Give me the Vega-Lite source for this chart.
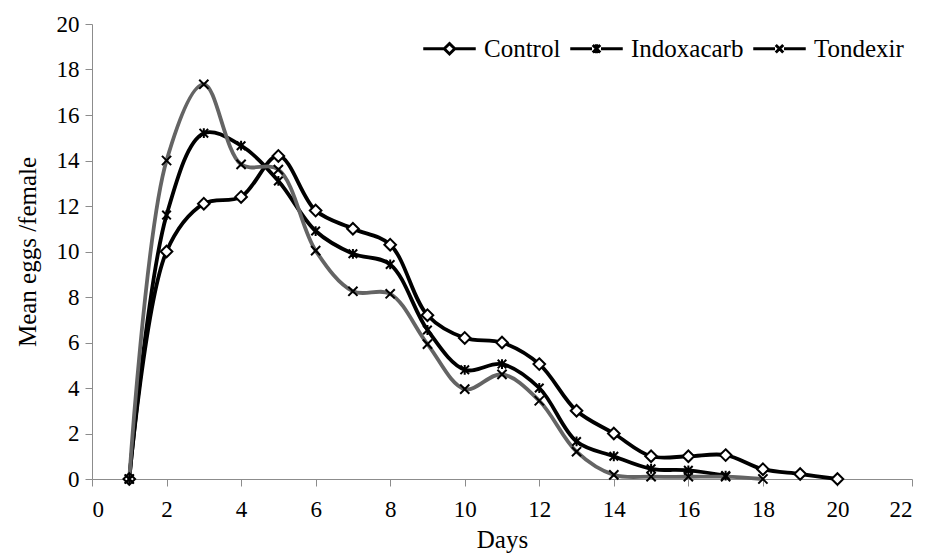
{
  "$schema": "https://vega.github.io/schema/vega-lite/v6.json",
  "width": 820,
  "height": 455,
  "autosize": {"type": "none"},
  "padding": {"left": 92, "top": 24, "right": 15, "bottom": 77},
  "background": "white",
  "config": {
    "view": {"stroke": null},
    "font": "Liberation Serif",
    "axis": {
      "grid": false,
      "domainColor": "#8c8c8c",
      "tickColor": "#8c8c8c",
      "tickSize": 7,
      "labelFont": "Liberation Serif",
      "labelFontSize": 23,
      "labelColor": "black",
      "titleFont": "Liberation Serif",
      "titleFontSize": 25,
      "titleFontWeight": "normal",
      "titleColor": "black"
    }
  },
  "data": {
    "values": [
      {"day": 1, "series": "Control", "eggs": 0},
      {"day": 2, "series": "Control", "eggs": 10},
      {"day": 3, "series": "Control", "eggs": 12.1},
      {"day": 4, "series": "Control", "eggs": 12.4},
      {"day": 5, "series": "Control", "eggs": 14.2},
      {"day": 6, "series": "Control", "eggs": 11.8},
      {"day": 7, "series": "Control", "eggs": 11.0},
      {"day": 8, "series": "Control", "eggs": 10.3},
      {"day": 9, "series": "Control", "eggs": 7.2},
      {"day": 10, "series": "Control", "eggs": 6.2},
      {"day": 11, "series": "Control", "eggs": 6.0},
      {"day": 12, "series": "Control", "eggs": 5.05},
      {"day": 13, "series": "Control", "eggs": 3.0},
      {"day": 14, "series": "Control", "eggs": 2.0},
      {"day": 15, "series": "Control", "eggs": 1.0},
      {"day": 16, "series": "Control", "eggs": 1.0},
      {"day": 17, "series": "Control", "eggs": 1.05},
      {"day": 18, "series": "Control", "eggs": 0.43},
      {"day": 19, "series": "Control", "eggs": 0.22},
      {"day": 20, "series": "Control", "eggs": 0},
      {"day": 1, "series": "Indoxacarb", "eggs": 0},
      {"day": 2, "series": "Indoxacarb", "eggs": 11.6},
      {"day": 3, "series": "Indoxacarb", "eggs": 15.2},
      {"day": 4, "series": "Indoxacarb", "eggs": 14.65},
      {"day": 5, "series": "Indoxacarb", "eggs": 13.1},
      {"day": 6, "series": "Indoxacarb", "eggs": 10.9},
      {"day": 7, "series": "Indoxacarb", "eggs": 9.9},
      {"day": 8, "series": "Indoxacarb", "eggs": 9.43},
      {"day": 9, "series": "Indoxacarb", "eggs": 6.55},
      {"day": 10, "series": "Indoxacarb", "eggs": 4.8},
      {"day": 11, "series": "Indoxacarb", "eggs": 5.05},
      {"day": 12, "series": "Indoxacarb", "eggs": 4.0},
      {"day": 13, "series": "Indoxacarb", "eggs": 1.65},
      {"day": 14, "series": "Indoxacarb", "eggs": 1.0},
      {"day": 15, "series": "Indoxacarb", "eggs": 0.45},
      {"day": 16, "series": "Indoxacarb", "eggs": 0.38},
      {"day": 17, "series": "Indoxacarb", "eggs": 0.15},
      {"day": 1, "series": "Tondexir", "eggs": 0},
      {"day": 2, "series": "Tondexir", "eggs": 14.0},
      {"day": 3, "series": "Tondexir", "eggs": 17.35},
      {"day": 4, "series": "Tondexir", "eggs": 13.83},
      {"day": 5, "series": "Tondexir", "eggs": 13.6},
      {"day": 6, "series": "Tondexir", "eggs": 10.04},
      {"day": 7, "series": "Tondexir", "eggs": 8.25},
      {"day": 8, "series": "Tondexir", "eggs": 8.14},
      {"day": 9, "series": "Tondexir", "eggs": 5.93},
      {"day": 10, "series": "Tondexir", "eggs": 3.95},
      {"day": 11, "series": "Tondexir", "eggs": 4.6},
      {"day": 12, "series": "Tondexir", "eggs": 3.44},
      {"day": 13, "series": "Tondexir", "eggs": 1.2},
      {"day": 14, "series": "Tondexir", "eggs": 0.18},
      {"day": 15, "series": "Tondexir", "eggs": 0.1},
      {"day": 16, "series": "Tondexir", "eggs": 0.1},
      {"day": 17, "series": "Tondexir", "eggs": 0.1},
      {"day": 18, "series": "Tondexir", "eggs": 0}
    ]
  },
  "encoding": {
    "x": {
      "field": "day", "type": "quantitative",
      "scale": {"domain": [0, 22], "nice": false},
      "axis": {"values": [0, 2, 4, 6, 8, 10, 12, 14, 16, 18, 20, 22], "title": "Days", "labelPadding": 12, "titlePadding": 6}
    },
    "y": {
      "field": "eggs", "type": "quantitative",
      "scale": {"domain": [0, 20], "nice": false},
      "axis": {"values": [0, 2, 4, 6, 8, 10, 12, 14, 16, 18, 20], "title": "Mean eggs /female", "labelPadding": 6, "titlePadding": 16}
    }
  },
  "layer": [
    {
      "mark": {"type": "point", "filled": false, "fill": "white", "stroke": "black", "strokeOpacity": 0, "fillOpacity": 0},
      "encoding": {
        "shape": {
          "field": "series", "type": "nominal", "title": null,
          "scale": {"domain": ["Control", "Indoxacarb", "Tondexir"], "range": ["M-3.5,0L-0.7,0M-0.7,0L0,-0.7L0.7,0L0,0.7ZM0.7,0L3.5,0", "M-3.5,0L-0.6,0M0.6,0L3.5,0M-0.5,-0.5L0.5,0.5M-0.5,0.5L0.5,-0.5M0,-0.6L0,0.6", "M-3.5,0L-0.6,0M0.6,0L3.5,0M-0.5,-0.5L0.5,0.5M-0.5,0.5L0.5,-0.5"]},
          "legend": {
            "orient": "none", "legendX": 345, "legendY": 12, "direction": "horizontal",
            "symbolSize": 225, "symbolStrokeWidth": 3,
            "labelFont": "Liberation Serif", "labelFontSize": 25, "labelColor": "black",
            "labelOffset": 22, "columnPadding": 3, "padding": 0,
            "encode": {"symbols": {
              "strokeOpacity": {"value": 1},
              "fillOpacity": {"value": 1},
              "fill": {"value": "white"},
              "strokeWidth": {"value": 3},
              "stroke": {"value": "#000000"}
            }}
          }
        }
      }
    },
    {
      "mark": {"type": "line", "interpolate": "catmull-rom", "strokeWidth": 3.8},
      "encoding": {
        "color": {
          "field": "series", "type": "nominal",
          "scale": {"domain": ["Control", "Indoxacarb", "Tondexir"], "range": ["#000000", "#000000", "#646464"]},
          "legend": null
        }
      }
    },
    {
      "mark": {"type": "point", "filled": false, "fill": "white", "fillOpacity": 1, "stroke": "black", "strokeWidth": 2, "size": 150, "opacity": 1},
      "encoding": {
        "shape": {
          "field": "series", "type": "nominal",
          "scale": {"domain": ["Control", "Indoxacarb", "Tondexir"], "range": ["M0,-0.95L0.95,0L0,0.95L-0.95,0Z", "M-0.7,-0.7L0.7,0.7M-0.7,0.7L0.7,-0.7M0,-0.8L0,0.8", "M-0.75,-0.75L0.75,0.75M-0.75,0.75L0.75,-0.75"]},
          "legend": null
        }
      }
    }
  ],
  "resolve": {"scale": {"shape": "independent"}}
}
